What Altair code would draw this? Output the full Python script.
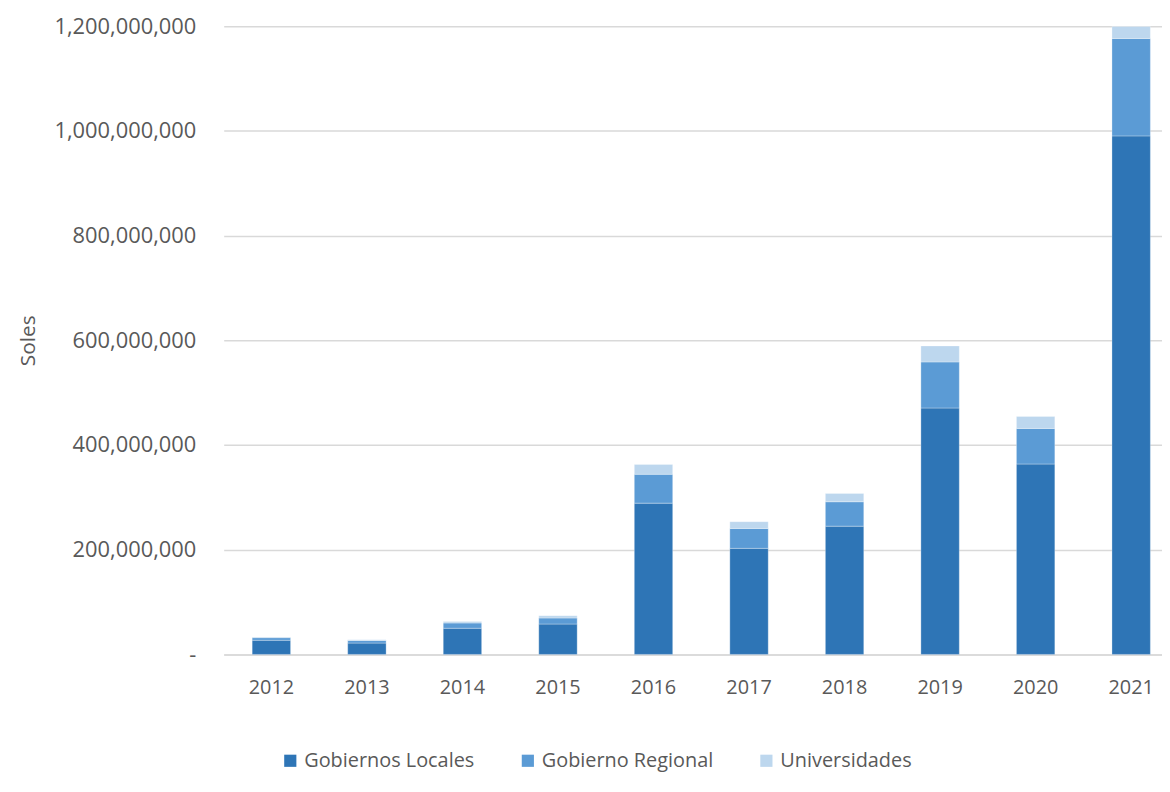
import altair as alt
import pandas as pd

years = ["2012", "2013", "2014", "2015", "2016", "2017", "2018", "2019", "2020", "2021"]
gob_locales = [27e6, 21.6e6, 50e6, 58e6, 289e6, 202.6e6, 245e6, 470.7e6, 363.7e6, 990.5e6]
gob_regional = [5e6, 5e6, 10e6, 11.5e6, 55e6, 38e6, 46.6e6, 88e6, 68e6, 186e6]
universidades = [1.5e6, 1.5e6, 3e6, 4.5e6, 19e6, 13e6, 16e6, 30.6e6, 23e6, 23e6]

series = ["Gobiernos Locales", "Gobierno Regional", "Universidades"]
colors = ["#2E75B6", "#5B9BD5", "#BDD7EE"]

rows = []
for i, y in enumerate(years):
    for k, (name, vals) in enumerate(zip(series, [gob_locales, gob_regional, universidades])):
        rows.append({"year": y, "serie": name, "value": vals[i], "ord": k})
df = pd.DataFrame(rows)

font = "Open Sans"
grey = "#595959"

chart = alt.Chart(df).mark_bar(stroke="white", strokeWidth=0.6, strokeOpacity=0.5).encode(
    x=alt.X("year:N", title=None,
            scale=alt.Scale(paddingInner=0.598, paddingOuter=0.21, align=0.71),
            axis=alt.Axis(labelAngle=0, labelFont=font, labelFontSize=20, labelColor=grey,
                          labelPadding=23, ticks=False, domainColor="#D9D9D9", domainWidth=1.5)),
    y=alt.Y("value:Q", title="Soles",
            scale=alt.Scale(domain=[0, 1.2e9], nice=False),
            axis=alt.Axis(values=[0, 2e8, 4e8, 6e8, 8e8, 1e9, 1.2e9],
                          labelExpr="datum.value == 0 ? '-' : format(datum.value, ',')",
                          labelFont=font, labelFontSize=22, labelColor=grey, labelPadding=28,
                          ticks=False, domain=False, gridColor="#D9D9D9", gridWidth=1.5,
                          titleFont=font, titleFontSize=21, titleColor=grey, titleFontWeight="normal",
                          titlePadding=15)),
    color=alt.Color("serie:N", scale=alt.Scale(domain=series, range=colors),
                    legend=alt.Legend(title=None, orient="none", direction="horizontal",
                                      legendX=57, legendY=729, symbolType="square",
                                      symbolSize=150, symbolStrokeWidth=0, labelLimit=400,
                                      labelFont=font, labelFontSize=20, labelColor=grey,
                                      columnPadding=43, labelOffset=4)),
    order=alt.Order("ord:Q"),
).properties(
    width=944, height=632, padding={"left": 10, "top": 5, "right": 0, "bottom": 5}
).configure_view(stroke=None)

chart.save("out.html", embed_options={"renderer": "svg", "actions": False})
